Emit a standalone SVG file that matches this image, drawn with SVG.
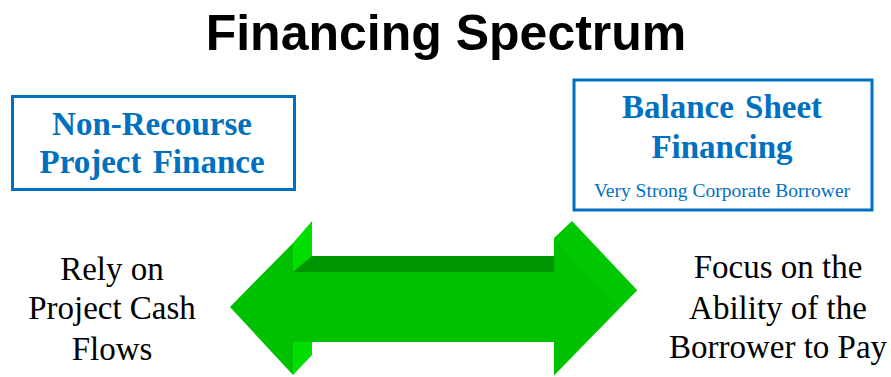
<svg xmlns="http://www.w3.org/2000/svg" width="891" height="377" viewBox="0 0 891 377">
<style>
.title{font-family:"Liberation Sans",Arial,sans-serif;font-weight:bold;font-size:50px;fill:#000;text-anchor:middle}
.box{fill:#fff;stroke:#0070C0;stroke-width:3}
.bt{font-family:"Liberation Serif","Times New Roman",serif;font-weight:bold;font-size:33px;fill:#0070C0;text-anchor:middle;word-spacing:3px}
.bs{font-family:"Liberation Serif","Times New Roman",serif;font-size:19.5px;fill:#0070C0;text-anchor:middle}
.side{font-family:"Liberation Serif","Times New Roman",serif;font-size:33px;fill:#000;text-anchor:middle}
</style>
<rect width="891" height="377" fill="#fff"/>
<text class="title" x="446" y="50">Financing Spectrum</text>
<g id="node-nonrecourse">
<rect class="box" x="12.5" y="96.5" width="282" height="93"/>
<text class="bt" x="152" y="135">Non-Recourse</text>
<text class="bt" x="152" y="173">Project Finance</text>
</g>
<g id="node-balance">
<rect class="box" x="574" y="80" width="298" height="130"/>
<text class="bt" x="722" y="118">Balance Sheet</text>
<text class="bt" x="722" y="158">Financing</text>
<text class="bs" x="722" y="197">Very Strong Corporate Borrower</text>
</g>
<g id="node-left-text">
<text class="side" x="112" y="280">Rely on</text>
<text class="side" x="112" y="319">Project Cash</text>
<text class="side" x="112" y="360">Flows</text>
</g>
<g id="node-right-text">
<text class="side" x="778" y="278">Focus on the</text>
<text class="side" x="778" y="319">Ability of the</text>
<text class="side" x="778" y="358">Borrower to Pay</text>
</g>
<g id="connectors">
<polygon points="293,243 312,221 312,355 293,375" fill="#00DF00"/>
<polygon points="293,272 312,256 554,256 554,272" fill="#009500"/>
<polygon points="554,238 572,221 637,290 554,375" fill="#00C800"/>
<polygon points="230,307 293,243 293,272 554,272 554,238 619,307 554,375 554,342 293,342 293,375" fill="#00C100"/>
<line x1="554" y1="375" x2="637" y2="290" stroke="#00D800" stroke-width="1"/>
<line x1="554" y1="238" x2="619" y2="307" stroke="#00D000" stroke-width="1"/>
</g>
</svg>
